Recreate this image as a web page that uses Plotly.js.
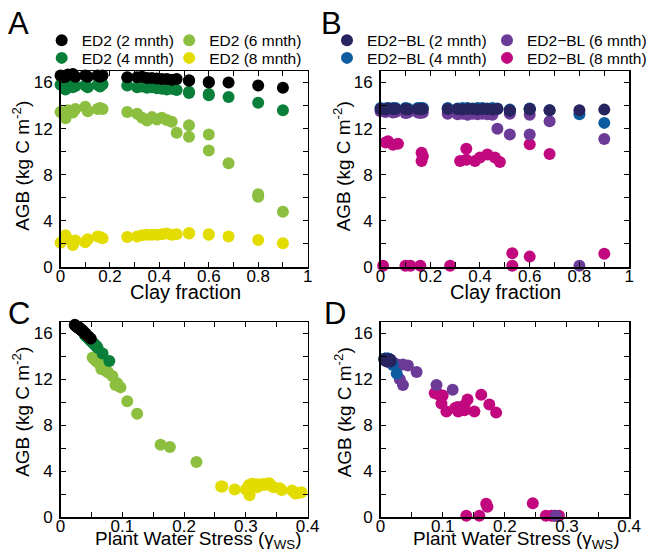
<!DOCTYPE html>
<html>
<head>
<meta charset="utf-8">
<script src="https://cdn.plot.ly/plotly-3.0.1.min.js"></script>
<style>html,body{margin:0;padding:0;background:#fff;}#chart{width:652px;height:556px;}</style>
</head>
<body>
<div id="chart"></div>
<script>
// ---------- DATA ----------
// ED2 runs (panels A and C): clay fraction, AGB (kg C m-2), plant water stress
const clayED2 = [0.00,0.02,0.03,0.05,0.06,0.10,0.11,0.15,0.16,0.17,0.27,0.31,0.33,0.35,0.37,0.39,0.41,0.43,0.45,0.47,0.52,0.52,0.60,0.60,0.68,0.80,0.90];
const agbED2_2 = [16.6,16.5,16.7,16.75,16.5,16.6,16.5,16.6,16.5,16.6,16.45,16.45,16.5,16.4,16.4,16.35,16.3,16.3,16.25,16.3,16.2,16.15,16.05,16.0,16.0,15.75,15.55];
const pwsED2_2 = [0.026,0.029,0.024,0.023,0.029,0.026,0.029,0.026,0.030,0.027,0.030,0.031,0.029,0.031,0.032,0.033,0.034,0.034,0.035,0.034,0.036,0.037,0.039,0.040,0.040,0.045,0.049];
const agbED2_4 = [15.8,15.4,15.85,15.6,15.7,15.75,15.6,15.8,15.65,15.85,15.75,15.6,15.65,15.55,15.6,15.5,15.45,15.4,15.45,15.35,15.2,15.1,14.9,15.0,14.75,14.25,13.6];
const pwsED2_4 = [0.041,0.048,0.040,0.045,0.043,0.042,0.045,0.041,0.044,0.040,0.042,0.045,0.044,0.046,0.045,0.047,0.048,0.049,0.048,0.050,0.052,0.054,0.058,0.056,0.060,0.068,0.079];
const clayED2_6 = [0.00,0.02,0.03,0.05,0.06,0.10,0.11,0.15,0.16,0.17,0.27,0.31,0.33,0.35,0.37,0.39,0.41,0.43,0.45,0.47,0.52,0.52,0.60,0.60,0.68,0.80,0.80,0.90];
const agbED2_6 = [13.45,12.9,13.6,13.4,13.7,13.9,13.5,13.7,13.8,13.7,13.45,13.3,12.95,12.7,13.0,12.8,12.95,12.75,12.6,11.65,12.3,11.3,11.5,10.1,9.0,6.3,6.1,4.8];
const pwsED2_6 = [0.062,0.066,0.058,0.063,0.056,0.052,0.060,0.056,0.054,0.056,0.062,0.065,0.070,0.075,0.068,0.072,0.070,0.074,0.077,0.092,0.084,0.097,0.089,0.108,0.124,0.162,0.177,0.220];
const agbED2_8 = [2.1,2.75,2.4,1.9,2.3,2.15,2.4,2.65,2.6,2.5,2.6,2.65,2.75,2.8,2.8,2.8,2.85,2.9,2.8,2.85,2.95,2.9,2.85,2.8,2.65,2.35,2.05];
const pwsED2_8 = [0.385,0.315,0.300,0.306,0.375,0.390,0.282,0.260,0.345,0.355,0.318,0.310,0.322,0.330,0.337,0.313,0.325,0.333,0.340,0.318,0.338,0.310,0.328,0.305,0.262,0.358,0.380];

// ED2-BL runs (panels B and D)
const clayBL = [0.00,0.02,0.03,0.05,0.06,0.10,0.11,0.15,0.16,0.17,0.27,0.31,0.33,0.35,0.37,0.39,0.41,0.43,0.45,0.47,0.52,0.52,0.60,0.60,0.68,0.80,0.90];
const agbBL_2 = [13.7,13.65,13.75,13.7,13.7,13.7,13.65,13.7,13.7,13.7,13.7,13.7,13.65,13.7,13.7,13.65,13.7,13.7,13.65,13.7,13.55,13.6,13.7,13.65,13.6,13.6,13.65];
const pwsBL_2 = [0.008,0.011,0.006,0.009,0.008,0.012,0.010,0.014,0.011,0.009,0.015,0.011,0.013,0.008,0.016,0.012,0.014,0.010,0.012,0.014,0.016,0.011,0.013,0.015,0.009,0.012,0.007];
const agbBL_4 = [13.8,13.75,13.8,13.8,13.8,13.8,13.75,13.8,13.8,13.8,13.8,13.75,13.8,13.8,13.75,13.8,13.8,13.75,13.8,13.75,13.65,13.6,13.75,13.7,13.6,13.25,12.5];
const pwsBL_4 = [0.007,0.010,0.006,0.008,0.007,0.011,0.009,0.012,0.010,0.008,0.013,0.010,0.012,0.007,0.014,0.011,0.013,0.009,0.011,0.013,0.015,0.016,0.012,0.014,0.017,0.020,0.026];
const agbBL_6 = [13.5,13.45,13.5,13.4,13.45,13.35,13.4,13.4,13.35,13.4,13.3,13.25,13.3,13.2,13.3,13.25,13.3,13.25,13.2,12.0,13.3,11.5,13.2,11.5,12.65,0.1,11.1];
const pwsBL_6 = [0.014,0.016,0.013,0.018,0.016,0.020,0.018,0.022,0.021,0.019,0.024,0.026,0.024,0.028,0.025,0.027,0.025,0.027,0.029,0.031,0.036,0.036,0.044,0.090,0.058,0.282,0.116];
const clayBL_8 = [0.01,0.10,0.12,0.16,0.28,0.53,0.53,0.60,0.90,0.02,0.03,0.05,0.07,0.165,0.165,0.17,0.32,0.345,0.345,0.38,0.40,0.43,0.46,0.48,0.60,0.68];
const agbBL_8 = [0.1,0.1,0.1,0.1,0.1,0.1,1.2,0.9,1.15,10.8,10.9,10.6,10.7,9.9,9.2,9.6,9.2,10.25,9.3,9.2,9.5,9.75,9.5,9.1,10.65,9.8];
const pwsBL_8 = [0.138,0.159,0.266,0.275,0.287,0.280,0.245,0.172,0.170,0.087,0.090,0.100,0.092,0.098,0.106,0.124,0.125,0.140,0.135,0.151,0.130,0.135,0.120,0.186,0.162,0.175];

const namesED2 = ['ED2 (2 mnth)','ED2 (4 mnth)','ED2 (6 mnth)','ED2 (8 mnth)'];
const namesBL = ['ED2\u2212BL (2 mnth)','ED2\u2212BL (4 mnth)','ED2\u2212BL (6 mnth)','ED2\u2212BL (8 mnth)'];
const colorsED2 = ['#000000','#0a7f3a','#8cbf3f','#e3dc00'];
const colorsBL = ['#27245f','#0c5c9f','#6c3a97','#c1087f'];
const panelLetters = ['A','B','C','D'];
const xTitleClay = 'Clay fraction';
const xTitlePws = 'Plant Water Stress (\u03b3<sub>WS</sub>)';
const yTitleAgb = 'AGB (kg C m<sup>-2</sup>)';

// ---------- BUILD ----------
const W = 652, H = 556;
const FONT = 'Liberation Sans, Arial, Helvetica, sans-serif';
const fx = p => p / W;
const fy = p => 1 - p / H;

const seriesED2 = [
  {x: clayED2, y: agbED2_2, s: pwsED2_2},
  {x: clayED2, y: agbED2_4, s: pwsED2_4},
  {x: clayED2_6, y: agbED2_6, s: pwsED2_6},
  {x: clayED2, y: agbED2_8, s: pwsED2_8}
];
const seriesBL = [
  {x: clayBL, y: agbBL_2, s: pwsBL_2},
  {x: clayBL, y: agbBL_4, s: pwsBL_4},
  {x: clayBL, y: agbBL_6, s: pwsBL_6},
  {x: clayBL_8, y: agbBL_8, s: pwsBL_8}
];
const legIdsED2 = ['legend','legend2','legend3','legend4'];
const legIdsBL = ['legend5','legend6','legend7','legend8'];

const traces = [];
function mk(x, y, name, color, xa, ya, leg, show) {
  return {type:'scatter', mode:'markers', x:x, y:y, name:name,
    xaxis:xa, yaxis:ya, legend:leg, showlegend:show, cliponaxis:false,
    marker:{size:12, color:color, line:{width:0}}, hoverinfo:'skip'};
}
for (let i = 3; i >= 0; i--) {
  traces.push(mk(seriesED2[i].x, seriesED2[i].y, namesED2[i], colorsED2[i], 'x', 'y', legIdsED2[i], true));
  traces.push(mk(seriesBL[i].x, seriesBL[i].y, namesBL[i], colorsBL[i], 'x2', 'y2', legIdsBL[i], true));
  traces.push(mk(seriesED2[i].s, seriesED2[i].y, namesED2[i], colorsED2[i], 'x3', 'y3', legIdsED2[i], false));
  traces.push(mk(seriesBL[i].s, seriesBL[i].y, namesBL[i], colorsBL[i], 'x4', 'y4', legIdsBL[i], false));
}

const tickfont = {family: FONT, size: 17, color: '#000'};
function axis(dom, range, dtick, minorDtick, anchor, isX) {
  return {domain: dom, range: range, anchor: anchor, dtick: dtick, tick0: 0,
    showline: true, linecolor: '#000', linewidth: 1.5, mirror: 'ticks',
    ticks: 'inside', ticklen: 5, tickwidth: 1, tickcolor: '#000',
    showgrid: false, zeroline: false, tickfont: tickfont, automargin: false,
    ticklabelstandoff: isX ? -7 : 3,
    minor: {dtick: minorDtick, tick0: 0, ticks: 'inside', ticklen: 5, tickwidth: 1, tickcolor: '#000', showgrid: false},
    fixedrange: true};
}
const xL = [fx(61), fx(310)], xR = [fx(383.5), fx(634)];
const yT = [fy(267), fy(71)], yB = [fy(517), fy(322)];

const ann = [];
[[6, 24], [321, 24], [6, 313], [324, 313]].forEach((p, i) => {
  ann.push({text: panelLetters[i], x: fx(p[0]), y: fy(p[1]), xanchor: 'left', yanchor: 'middle',
    font: {family: FONT, size: 31, color: '#000'}});
});
[[187, 292, xTitleClay, 20], [509, 292, xTitleClay, 20], [200, 540, xTitlePws, 19], [520, 540, xTitlePws, 19]].forEach(p => {
  ann.push({text: p[2], x: fx(p[0]), y: fy(p[1]), xanchor: 'center', yanchor: 'middle',
    font: {family: FONT, size: p[3], color: '#000'}});
});
[[21, 166], [345, 166], [21, 412], [346, 412]].forEach(p => {
  ann.push({text: yTitleAgb, x: fx(p[0]), y: fy(p[1]), xanchor: 'center', yanchor: 'middle', textangle: -90,
    font: {family: FONT, size: 19, color: '#000'}});
});
ann.forEach(a => Object.assign(a, {xref: 'paper', yref: 'paper', showarrow: false}));

const layout = {
  width: W, height: H, margin: {l: 0, r: 0, t: 0, b: 0},
  paper_bgcolor: '#fff', plot_bgcolor: '#fff',
  font: {family: FONT, color: '#000'},
  xaxis: axis(xL, [0, 1], 0.2, 0.1, 'y', true),
  yaxis: axis(yT, [0, 17], 4, 2, 'x', false),
  xaxis2: axis(xR, [0, 1], 0.2, 0.1, 'y2', true),
  yaxis2: axis(yT, [0, 17], 4, 2, 'x2', false),
  xaxis3: axis(xL, [0, 0.4], 0.1, 0.05, 'y3', true),
  yaxis3: axis(yB, [0, 17], 4, 2, 'x3', false),
  xaxis4: axis(xR, [0, 0.4], 0.1, 0.05, 'y4', true),
  yaxis4: axis(yB, [0, 17], 4, 2, 'x4', false),
  annotations: ann
};
const legPos = {
  legend: [42, 40.7], legend2: [42, 58.3], legend3: [170.5, 40.7], legend4: [170.5, 58.3],
  legend5: [329.5, 40.7], legend6: [329.5, 58.3], legend7: [491, 40.7], legend8: [491, 58.3]
};
for (const k in legPos) {
  layout[k] = {x: fx(legPos[k][0]), y: fy(legPos[k][1]), xanchor: 'left', yanchor: 'middle',
    xref: 'paper', yref: 'paper', bgcolor: 'rgba(0,0,0,0)', borderwidth: 0,
    font: {family: FONT, size: 15.5, color: '#000'}, orientation: 'v'};
}

Plotly.newPlot('chart', traces, layout, {staticPlot: true, displayModeBar: false});
</script>
</body>
</html>
